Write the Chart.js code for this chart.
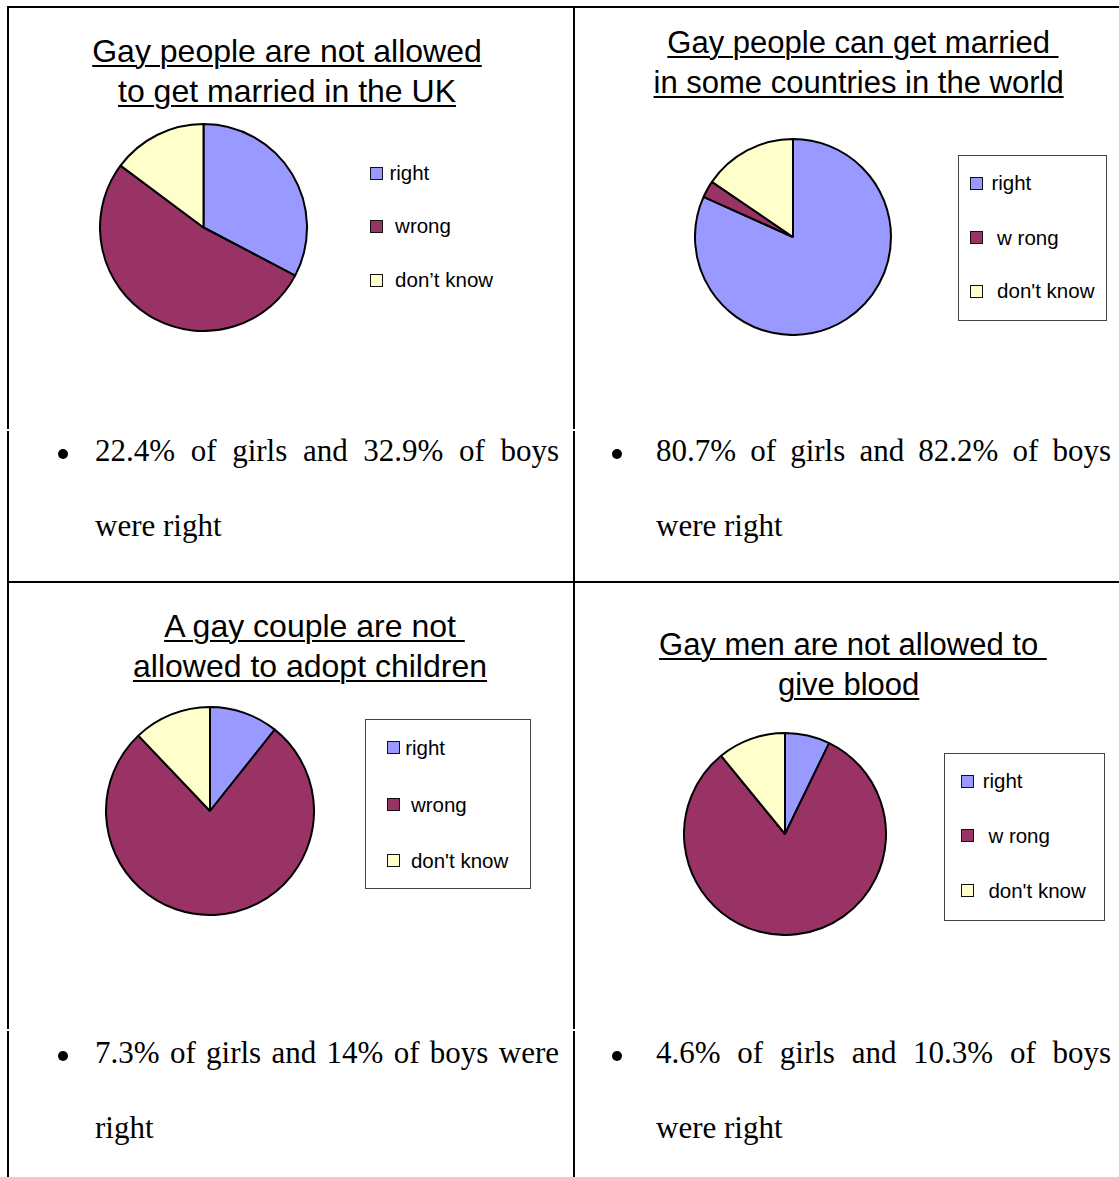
<!DOCTYPE html>
<html>
<head>
<meta charset="utf-8">
<script src="https://cdn.jsdelivr.net/npm/chart.js@4.4.1/dist/chart.umd.min.js"></script>
<style>
  html, body { margin: 0; padding: 0; background: #fff; }
  #page { position: relative; width: 1119px; height: 1177px; overflow: hidden; background: #fff; }
  .rule { position: absolute; background: #000; }
  .title { position: absolute; width: 560px; font-family: "Liberation Sans", Arial, sans-serif; line-height: 40px; text-align: center; color: #000; }
  .title div { white-space: pre; }
  .title span { text-decoration: underline; text-decoration-thickness: 2px; text-underline-offset: 3px; }
  .legend { position: absolute; box-sizing: border-box; font-family: "Liberation Sans", Arial, sans-serif; font-size: 20.5px; color: #000; }
  .legend.boxed { border: 1px solid #444; }
  .swatch { position: absolute; box-sizing: border-box; width: 13px; height: 13px; border: 1.5px solid #111; }
  .label { position: absolute; white-space: pre; line-height: 24px; }
  .note { position: absolute; font-family: "Liberation Serif", "Times New Roman", serif; font-size: 31px; line-height: 40px; color: #000; white-space: nowrap; }
  .note.full { text-align: justify; text-align-last: justify; white-space: normal; }
  .dot { position: absolute; width: 10px; height: 10px; border-radius: 50%; background: #000; }
  canvas { position: absolute; }
</style>
</head>
<body>
<div id="page"></div>
<script>
// answers in each survey question (slice order: right, wrong, don't know)
const categories = ['right', 'wrong', "don't know"];
const colours = ['#9999FF', '#993366', '#FFFFCC'];

const ukMarriage = [32.7, 52.5, 14.8];
const worldMarriage = [81.7, 2.8, 15.5];
const adoption = [10.7, 77.2, 12.1];
const bloodDonation = [7.2, 81.9, 10.9];

const titles = [
  ['Gay people are not allowed', 'to get married in the UK'],
  ['Gay people can get married ', 'in some countries in the world'],
  ['A gay couple are not ', 'allowed to adopt children'],
  ['Gay men are not allowed to ', 'give blood']
];

// legend text as it shows in each chart
const legendLabels = [
  ['right', ' wrong', ' don\u2019t know'],
  ['right', ' w rong', " don't know"],
  ['right', ' wrong', " don't know"],
  ['right', ' w rong', " don't know"]
];

const notes = [
  ['22.4% of girls and 32.9% of boys', 'were right'],
  ['80.7% of girls and 82.2% of boys', 'were right'],
  ['7.3% of girls and 14% of boys were', 'right'],
  ['4.6% of girls and 10.3% of boys', 'were right']
];

const panels = [
  { values: ukMarriage,
    pie: { x: 99, y: 123, size: 209 },
    title: { cx: 287, top: 30.6, size: 32 },
    legend: { x: 370, y: 160, w: 0, h: 0, boxed: false, mx: 0, tx: 19.4, rows: [13.3, 66, 120] },
    note: { x: 95, w: 464, bullet: 63, top: 431.2 } },
  { values: worldMarriage,
    pie: { x: 694, y: 138, size: 198 },
    title: { cx: 858.6, top: 22.5, size: 31 },
    legend: { x: 958, y: 155, w: 149, h: 166, boxed: true, mx: 12, tx: 33.4, rows: [28, 82.5, 136] },
    note: { x: 656, w: 455, bullet: 617, top: 431.2 } },
  { values: adoption,
    pie: { x: 105, y: 706, size: 210 },
    title: { cx: 310, top: 605.6, size: 32 },
    legend: { x: 365, y: 719, w: 166, h: 170, boxed: true, mx: 22, tx: 40.2, rows: [28.5, 85.5, 141.5] },
    note: { x: 95, w: 464, bullet: 63, top: 1032.8 } },
  { values: bloodDonation,
    pie: { x: 683, y: 732, size: 204 },
    title: { cx: 848.6, top: 624.5, size: 31 },
    legend: { x: 944, y: 753, w: 161, h: 168, boxed: true, mx: 17, tx: 38.7, rows: [28, 82.5, 137.7] },
    note: { x: 656, w: 455, bullet: 617, top: 1032.8 } }
];

const page = document.getElementById('page');

function add(tag, cls, css) {
  const el = document.createElement(tag);
  if (cls) el.className = cls;
  Object.assign(el.style, css || {});
  page.appendChild(el);
  return el;
}

// table grid
function rule(x, y, w, h) {
  add('div', 'rule', { left: x + 'px', top: y + 'px', width: w + 'px', height: h + 'px' });
}
rule(7, 6, 1112, 2);
rule(7, 581, 1112, 2);
[[6, 429], [431, 1029], [1031, 1177]].forEach(([a, b]) => {
  rule(7, a, 2, b - a);
  rule(573, a, 2, b - a);
});

panels.forEach((p, i) => {
  // title
  const t = add('div', 'title', { left: (p.title.cx - 280) + 'px', top: p.title.top + 'px', fontSize: p.title.size + 'px' });
  titles[i].forEach(line => {
    const row = document.createElement('div');
    const span = document.createElement('span');
    span.textContent = line;
    if (line.endsWith(' ')) span.style.marginRight = '-0.28em';
    row.appendChild(span);
    t.appendChild(row);
  });

  // pie
  const canvas = add('canvas', null, { left: p.pie.x + 'px', top: p.pie.y + 'px' });
  canvas.width = p.pie.size;
  canvas.height = p.pie.size;
  const chart = new Chart(canvas.getContext('2d'), {
    type: 'pie',
    data: {
      labels: categories,
      datasets: [{
        data: p.values,
        backgroundColor: colours,
        borderColor: '#000',
        borderWidth: 2,
        hoverOffset: 0,
        offset: 0
      }]
    },
    options: {
      responsive: false,
      animation: false,
      events: [],
      layout: { padding: 0 },
      plugins: { legend: { display: false }, tooltip: { enabled: false } }
    }
  });

  // legend built from the chart's own data
  const lg = p.legend;
  const box = add('div', 'legend' + (lg.boxed ? ' boxed' : ''), {
    left: lg.x + 'px', top: lg.y + 'px', width: lg.w + 'px', height: lg.h + 'px'
  });
  chart.data.labels.forEach((_, k) => {
    const off = lg.boxed ? 1 : 0;
    const sw = document.createElement('div');
    sw.className = 'swatch';
    sw.style.left = (lg.mx - off) + 'px';
    sw.style.top = (lg.rows[k] - 6.5 - off) + 'px';
    sw.style.background = chart.data.datasets[0].backgroundColor[k];
    box.appendChild(sw);
    const lb = document.createElement('div');
    lb.className = 'label';
    lb.textContent = legendLabels[i][k];
    lb.style.left = (lg.tx - off) + 'px';
    lb.style.top = (lg.rows[k] - 12 - off) + 'px';
    box.appendChild(lb);
  });

  // bullet note under the chart
  const n = p.note;
  add('div', 'dot', { left: (n.bullet - 5) + 'px', top: (n.top + 30.5 - 7.7 - 5) + 'px' });
  const l1 = add('div', 'note full', { left: n.x + 'px', top: n.top + 'px', width: n.w + 'px' });
  l1.textContent = notes[i][0];
  const l2 = add('div', 'note', { left: n.x + 'px', top: (n.top + 75) + 'px' });
  l2.textContent = notes[i][1];
});
</script>
</body>
</html>
